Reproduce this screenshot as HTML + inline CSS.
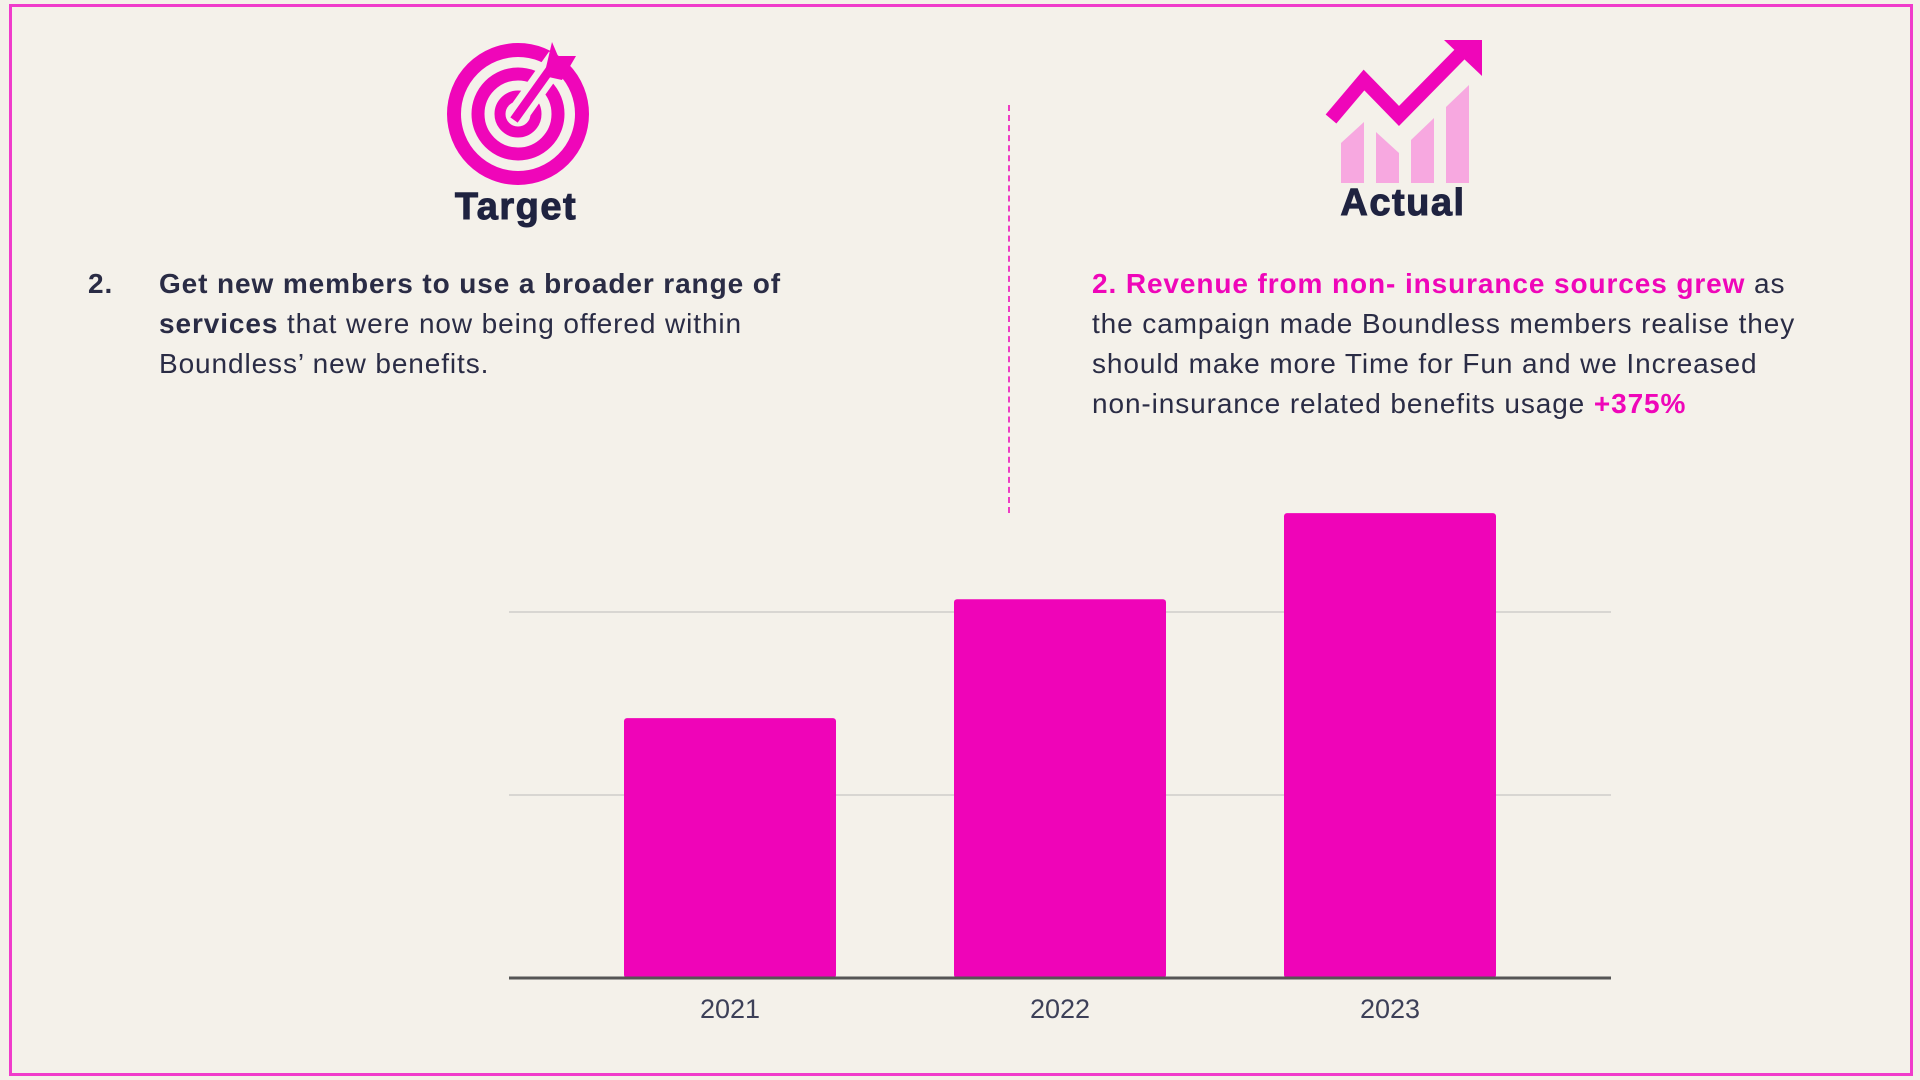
<!DOCTYPE html>
<html><head><meta charset="utf-8"><style>
html,body{margin:0;padding:0}
body{width:1920px;height:1080px;background:#f4f1ea;position:relative;overflow:hidden;font-family:"Liberation Sans",sans-serif;color:#2a2c45}
.frame{position:absolute;left:9px;top:4px;width:1898px;height:1066px;border:3px solid #f03ccb}
.t{position:absolute;font-size:28px;line-height:40px;white-space:nowrap;letter-spacing:0.9px}
.pink{color:#ef06b9;font-weight:bold}
.h{position:absolute;font-size:38px;font-weight:900;color:#1f2340;transform:translateX(-50%);letter-spacing:1.5px;-webkit-text-stroke:1px #1f2340}
</style></head><body>
<div class="frame"></div>

<svg style="position:absolute;left:440px;top:36px" width="160" height="160" viewBox="0 0 160 160">
  <circle cx="78" cy="78" r="64" fill="none" stroke="#ef06b9" stroke-width="14"/>
  <circle cx="78" cy="78" r="40" fill="none" stroke="#ef06b9" stroke-width="13"/>
  <circle cx="78" cy="78" r="18" fill="none" stroke="#ef06b9" stroke-width="11"/>
  <line x1="78" y1="78" x2="118" y2="22" stroke="#f4f1ea" stroke-width="22"/>
  <line x1="74" y1="84" x2="114" y2="28" stroke="#ef06b9" stroke-width="9"/>
  <polygon points="112,6 118,20 136,20 122,44 104,40" fill="#ef06b9"/>
</svg>
<div class="h" style="left:516px;top:186px">Target</div>

<svg style="position:absolute;left:0;top:0" width="1920" height="200" viewBox="0 0 1920 200">
  <polygon points="1341,143 1364,122 1364,183 1341,183" fill="#f7a8e0"/>
  <polygon points="1376,132 1399,153 1399,183 1376,183" fill="#f7a8e0"/>
  <polygon points="1411,140 1434,118 1434,183 1411,183" fill="#f7a8e0"/>
  <polygon points="1446,107 1469,85 1469,183 1446,183" fill="#f7a8e0"/>
  <polyline points="1331,119 1364,80 1399,116 1462,52" fill="none" stroke="#ef06b9" stroke-width="14" stroke-linejoin="miter"/>
  <polygon points="1444,40 1482,40 1482,76" fill="#ef06b9"/>
</svg>
<div class="h" style="left:1403px;top:182px">Actual</div>

<div class="t" style="left:88px;top:264px;font-weight:bold">2.</div>
<div class="t" style="left:159px;top:264px"><b>Get new members to use a broader range of</b><br><b>services</b> that were now being offered within<br>Boundless’ new benefits.</div>

<div style="position:absolute;left:1008px;top:105px;height:408px;border-left:2px dashed #ef3cc4"></div>

<div class="t" style="left:1092px;top:264px"><span class="pink">2. Revenue from non- insurance sources grew</span> as<br>the campaign made Boundless members realise they<br>should make more Time for Fun and we Increased<br>non-insurance related benefits usage <span class="pink">+375%</span></div>

<svg id="chart" style="position:absolute;left:0;top:0" width="1920" height="1080"></svg>
<script>
const categories=["2021","2022","2023"];
const values=[142,207,254];
const gridTicks=[100,200];
const svg=document.getElementById('chart');
const NS='http://www.w3.org/2000/svg';
const x0=509,x1=1611,base=978,pxPerUnit=1.83;
const firstCenter=730,step=330;
const bw=212;
function yScale(v){return base-v*pxPerUnit;}
function xCenter(i){return firstCenter+step*i;}
function mk(t,a){const e=document.createElementNS(NS,t);for(const k in a)e.setAttribute(k,a[k]);svg.appendChild(e);return e;}
gridTicks.forEach(function(g){
  const l=mk('line',{x1:x0,x2:x1,y1:yScale(g),y2:yScale(g),stroke:'#d8d6d2','stroke-width':2});
  
  
});
values.forEach(function(v,i){
  const r=mk('rect',{x:xCenter(i)-bw/2,y:yScale(v),width:bw,height:v*pxPerUnit,fill:'#ef04b8',rx:3});
  
  
  const t=mk('text',{x:xCenter(i),y:base+40,'text-anchor':'middle','font-size':27,fill:'#3d4058','font-family':'Liberation Sans, sans-serif'});
  t.textContent=categories[i];
  
  
});
const ax=mk('line',{x1:x0,x2:x1,y1:base,y2:base,stroke:'#555','stroke-width':3});


</script>
</body></html>
